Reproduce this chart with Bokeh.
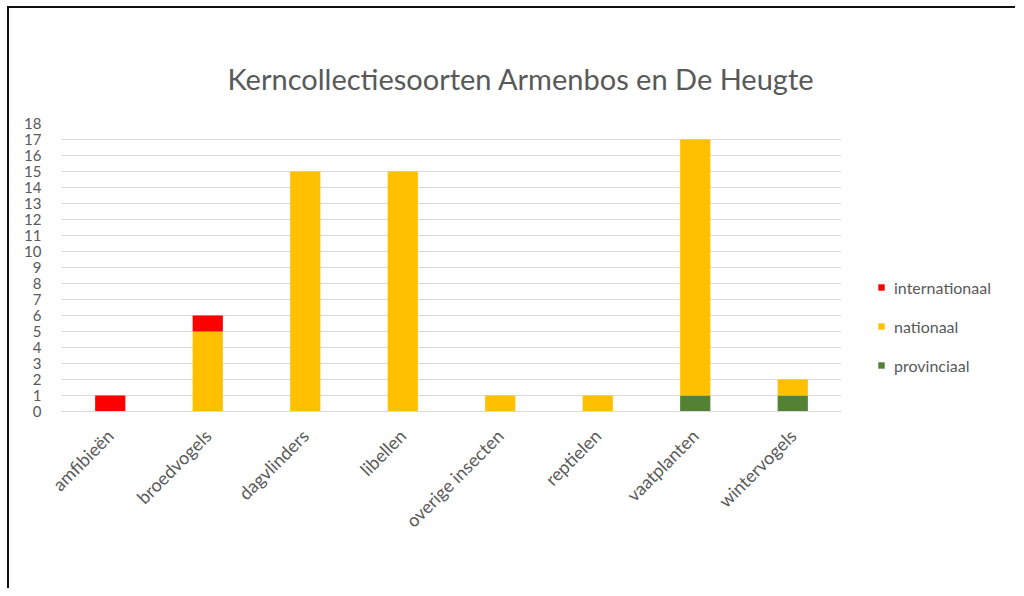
from bokeh.plotting import figure
from bokeh.layouts import row
from bokeh.models import ColumnDataSource, FactorRange, FixedTicker, Legend, LegendItem, Range1d
from bokeh.embed import file_html
from bokeh.resources import INLINE
import math

categories = ["amfibieën", "broedvogels", "dagvlinders", "libellen",
              "overige insecten", "reptielen", "vaatplanten", "wintervogels"]
provinciaal = [0, 0, 0, 0, 0, 0, 1, 1]
nationaal = [0, 5, 15, 15, 1, 1, 16, 1]
internationaal = [1, 1, 0, 0, 0, 0, 0, 0]
y_ticks = list(range(0, 19))

title_text = "Kerncollectiesoorten Armenbos en De Heugte"
series = ["provinciaal", "nationaal", "internationaal"]
legend_order = ["internationaal", "nationaal", "provinciaal"]
colors = ["#548235", "#FFC000", "#FF0000"]

src = ColumnDataSource(dict(cat=categories, provinciaal=provinciaal,
                            nationaal=nationaal, internationaal=internationaal))

FONT = "Lato"
GRAY = "#595959"
H = 580

# ---- main chart ----
p = figure(width=852, height=H, output_backend="svg", toolbar_location=None,
           x_range=FactorRange(*categories, range_padding=0),
           y_range=Range1d(0, 18),
           min_border_left=52, min_border_right=20,
           min_border_top=115, min_border_bottom=177,
           title=title_text)
p.outline_line_color = None
p.background_fill_color = "white"
p.border_fill_color = "white"

p.title.align = "left"
p.title.offset = 166
p.title.text_font = FONT
p.title.text_font_size = "29px"
p.title.text_font_style = "normal"
p.title.text_color = GRAY
p.title.standoff = 55

rs = p.vbar_stack(series, x="cat", width=0.31, color=colors, source=src, line_color=None)

p.xgrid.grid_line_color = None
p.ygrid.grid_line_color = "#d9d9d9"
p.ygrid.grid_line_width = 1

p.yaxis.ticker = FixedTicker(ticks=y_ticks)
p.yaxis.axis_line_color = None
p.yaxis.major_tick_line_color = None
p.yaxis.minor_tick_line_color = None
p.yaxis.major_label_text_font = FONT
p.yaxis.major_label_text_font_size = "15px"
p.yaxis.major_label_text_color = GRAY
p.yaxis.major_label_standoff = 14

p.xaxis.axis_line_color = "#d9d9d9"
p.xaxis.major_tick_line_color = None
p.xaxis.minor_tick_line_color = None
p.xaxis.major_label_orientation = math.pi / 4
p.xaxis.major_label_text_font = FONT
p.xaxis.major_label_text_font_size = "18px"
p.xaxis.major_label_text_color = GRAY
p.xaxis.major_label_standoff = 15

# ---- legend panel (same data; its bars are hidden, only the legend shows) ----
lg = figure(width=154, height=H, output_backend="svg", toolbar_location=None,
            x_range=FactorRange(*categories, range_padding=0),
            y_range=Range1d(0, 18),
            min_border=0, x_axis_type=None, y_axis_type=None)
lg.outline_line_color = None
lg.grid.visible = False
lg.background_fill_color = "white"
lg.border_fill_color = "white"
lrs = lg.vbar_stack(series, x="cat", width=0.31, color=colors, source=src, line_color=None)
for r in lrs:
    r.visible = False
by_name = dict(zip(series, lrs))

items = [LegendItem(label=name, renderers=[by_name[name]]) for name in legend_order]
legend = Legend(items=items, location=(16, 36), margin=0, padding=0,
                border_line_color=None, background_fill_alpha=0,
                inactive_fill_alpha=0,
                glyph_width=8, glyph_height=8, label_standoff=9,
                label_height=20, spacing=19,
                label_text_font=FONT, label_text_font_size="16px", label_text_color=GRAY)
lg.add_layout(legend, "center")

layout = row(p, lg, styles={"border-top": "2px solid #111", "border-left": "2px solid #111",
                            "margin-left": "7px", "margin-top": "6px"})

open("out.html", "w").write(file_html(layout, INLINE))
